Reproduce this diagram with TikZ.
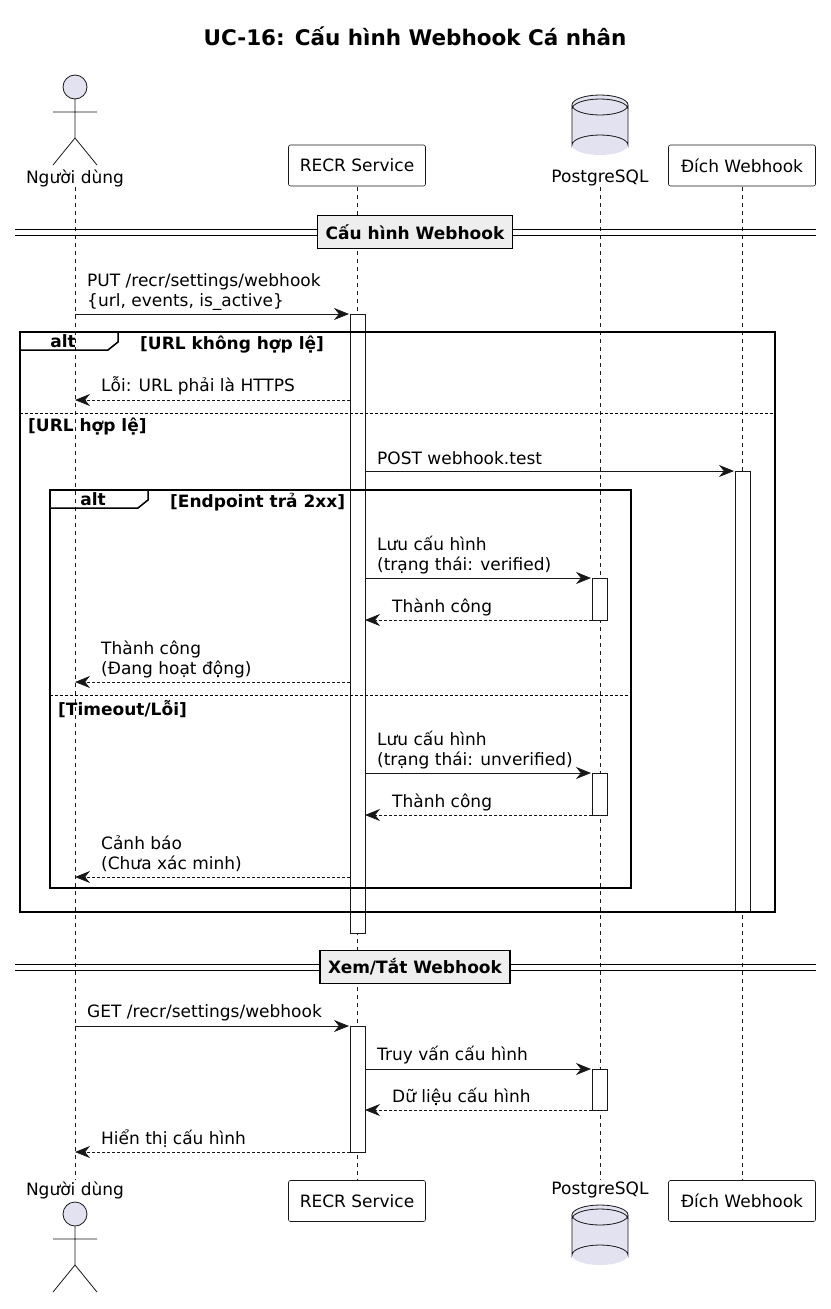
\documentclass[tikz,border=0pt]{standalone}
\usepackage{fontspec}
\setmainfont{DejaVu Sans}
\usetikzlibrary{positioning,arrows.meta}

\definecolor{partfill}{HTML}{E2E2F0}
\definecolor{partline}{HTML}{181818}
\definecolor{sepfill}{HTML}{EEEEEE}

\tikzset{
  txt/.style={font=\fontsize{17}{20}\selectfont, inner sep=0pt, anchor=west, align=left},
  msg/.style={draw=partline, line width=0.8pt, -{Stealth[length=15pt,width=12pt]}},
  reply/.style={msg, densely dashed},
  life/.style={draw=partline, dash pattern=on 4pt off 4pt, line width=0.5pt},
  act/.style={draw=partline, fill=white, line width=0.8pt},
  box/.style={draw=partline, fill=white, rounded corners=2pt, line width=0.6pt,
    minimum height=41pt, font=\fontsize{17}{20}\selectfont},
  frame/.style={draw=black, line width=1.5pt},
  sep/.style={draw=black, fill=sepfill, line width=1.5pt, font=\bfseries\fontsize{17}{20}\selectfont,
    minimum height=33pt, inner xsep=8pt},
  guard/.style={txt, font=\bfseries\fontsize{17}{20}\selectfont}
}

% actor figure
\newcommand{\stickman}[2]{%
  \draw[draw=partline, fill=partfill, line width=0.8pt] (#1,#2) circle[radius=12];
  \draw[draw=partline, line width=0.8pt] (#1,#2+12) -- (#1,#2+51)
    (#1-22,#2+25) -- (#1+22,#2+25)
    (#1-22,#2+78) -- (#1,#2+51) -- (#1+22,#2+78);
}
% database figure
\newcommand{\dbcyl}[2]{%
  \path[fill=partfill] (#1-28,#2) -- (#1+28,#2) -- (#1+28,#2+40) -- (#1-28,#2+40) -- cycle;
  \path[fill=partfill] (#1,#2+40) ellipse[x radius=28, y radius=10];
  \draw[draw=partline, line width=0.8pt] (#1-28,#2) -- (#1-28,#2+40)
    arc[start angle=180, end angle=360, x radius=28, y radius=10] -- (#1+28,#2);
  \draw[draw=partline, fill=partfill, line width=0.8pt] (#1,#2) ellipse[x radius=28, y radius=10];
  \draw[draw=partline, line width=0.8pt] (#1-28,#2+4) arc[start angle=180, end angle=360, x radius=28, y radius=10];
}
% alt tab
\newcommand{\alttab}[3]{%
  \draw[frame] (#1,#2) -- (#3,#2) -- (#3,#2+10) -- (#3-10,#2+18) -- (#1,#2+18);
  \node[font=\bfseries\fontsize{17}{20}\selectfont, inner sep=0pt] at ({(#1+#3)/2-6},#2+9) {alt};
}

\begin{document}
\begin{tikzpicture}[x=1pt,y=-1pt]
\useasboundingbox (0,0) rectangle (830,1309);

\node[font=\bfseries\fontsize{21.5}{25}\selectfont] (title) at (415,36) {UC-16: Cấu hình Webhook Cá nhân};

% lifelines
\coordinate (u) at (75,0);
\coordinate (r) at (357,0);
\coordinate (p) at (600,0);
\coordinate (d) at (742,0);
\foreach \c in {u,r,p,d}
  \draw[life] (\c |- 0,187) -- (\c |- 0,1180);

% participants top
\stickman{75}{87}
\node[txt, anchor=center] (utop) at (75,178) {Người dùng};
\node[box, minimum width=137pt] (rtop) at (357,165.5) {RECR Service};
\dbcyl{600}{105}
\node[txt, anchor=center] (ptop) at (600,178) {PostgreSQL};
\node[box, minimum width=147pt] (dtop) at (742,165.5) {Đích Webhook};

% participants bottom
\node[txt, anchor=center] (ubot) at (75,1190) {Người dùng};
\stickman{75}{1214}
\node[box, minimum width=137pt] (rbot) at (357,1201) {RECR Service};
\node[txt, anchor=center] (pbot) at (600,1190) {PostgreSQL};
\dbcyl{600}{1215}
\node[box, minimum width=147pt] (dbot) at (742,1201) {Đích Webhook};

% separator 1
\draw[line width=1pt] (15,229) -- (816,229) (15,235) -- (816,235);
\node[sep] (sep1) at (415,232) {Cấu hình Webhook};

% activations
\draw[act] (350,314) rectangle (365,933);
\draw[act] (735,471) rectangle (750,911);
\draw[act] (592,578) rectangle (607,620);
\draw[act] (592,773) rectangle (607,815);

\node[txt] (m1) at (87,292) {PUT /recr/settings/webhook\\\{url, events, is\_active\}};
\draw[msg] (u |- 0,314) -- (349,314);

% outer alt
\draw[frame] (20,332) rectangle (775,912);
\alttab{20}{332}{118}
\node[guard] (g1) at (140,345) {[URL không hợp lệ]};
\node[txt] (m2) at (101,386) {Lỗi: URL phải là HTTPS};
\draw[reply] (350,400) -- (u |- 0,400);
\draw[densely dashed, line width=0.8pt] (20,413) -- (775,413);
\node[guard] (g2) at (28,427) {[URL hợp lệ]};
\node[txt] (m3) at (377,458) {POST webhook.test};
\draw[msg] (365,471) -- (734,471);

% inner alt
\draw[frame] (50,490) rectangle (631,888);
\alttab{50}{490}{148}
\node[guard] (g3) at (170,502) {[Endpoint trả 2xx]};
\node[txt] (m4) at (377,555) {Lưu cấu hình\\(trạng thái: verified)};
\draw[msg] (365,578) -- (591,578);
\node[txt] (m5) at (392,607) {Thành công};
\draw[reply] (592,620) -- (365,620);
\node[txt] (m6) at (101,659) {Thành công\\(Đang hoạt động)};
\draw[reply] (350,682) -- (u |- 0,682);
\draw[densely dashed, line width=0.8pt] (50,695) -- (631,695);
\node[guard] (g4) at (58,709) {[Timeout/Lỗi]};
\node[txt] (m7) at (377,750) {Lưu cấu hình\\(trạng thái: unverified)};
\draw[msg] (365,773) -- (591,773);
\node[txt] (m8) at (392,802) {Thành công};
\draw[reply] (592,815) -- (365,815);
\node[txt] (m9) at (101,854) {Cảnh báo\\(Chưa xác minh)};
\draw[reply] (350,877) -- (u |- 0,877);

% separator 2
\draw[line width=1pt] (15,964) -- (816,964) (15,970) -- (816,970);
\node[sep] (sep2) at (415,967) {Xem/Tắt Webhook};

\draw[act] (350,1026) rectangle (365,1152);
\draw[act] (592,1069) rectangle (607,1110);
\node[txt] (m10) at (87,1013) {GET /recr/settings/webhook};
\draw[msg] (u |- 0,1026) -- (349,1026);
\node[txt] (m11) at (377,1055) {Truy vấn cấu hình};
\draw[msg] (365,1069) -- (591,1069);
\node[txt] (m12) at (392,1097) {Dữ liệu cấu hình};
\draw[reply] (592,1110) -- (365,1110);
\node[txt] (m13) at (101,1139) {Hiển thị cấu hình};
\draw[reply] (350,1152) -- (u |- 0,1152);
\end{tikzpicture}
\end{document}
